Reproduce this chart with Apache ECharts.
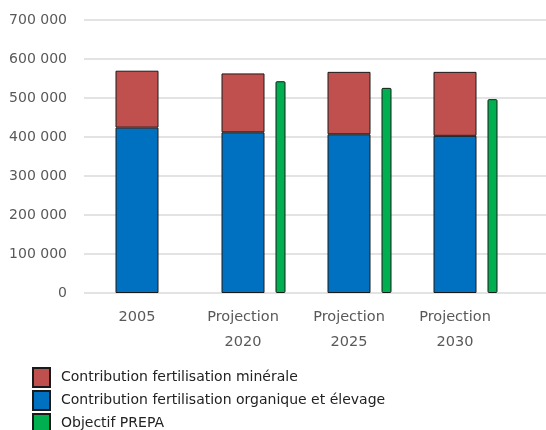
<!DOCTYPE html>
<html>
<head>
<meta charset="utf-8">
<script src="https://cdn.jsdelivr.net/npm/echarts@6/dist/echarts.min.js"></script>
<style>
  html, body { margin: 0; padding: 0; background: #fff; }
  #chart { width: 546px; height: 430px; }
</style>
</head>
<body>
<div id="chart"></div>
<script>
// catégories et valeurs
const categories = ['2005', 'Projection\n2020', 'Projection\n2025', 'Projection\n2030'];
const organique = [424000, 412000, 407000, 403000];
const minerale = [146000, 151000, 160000, 164000];
const objectifPrepa = [null, 543000, 526000, 497000];

const labelNames = {
  minerale: 'Contribution fertilisation minérale',
  organique: 'Contribution fertilisation organique et élevage',
  prepa: 'Objectif PREPA'
};

const font = '"DejaVu Sans", sans-serif';
const fmt = v => String(v).replace(/\B(?=(\d{3})+(?!\d))/g, ' ');

let myChart = echarts.init(document.getElementById('chart'));
let option = {
  animation: false,
  textStyle: { fontFamily: font },
  legend: {
    orient: 'vertical',
    left: 27,
    top: 362,
    height: 80,
    itemWidth: 17,
    itemHeight: 19,
    itemGap: 2,
    icon: 'rect',
    textStyle: { color: '#222', fontSize: 14, lineHeight: 19, padding: [0, 0, 0, 6], fontFamily: font },
    data: [labelNames.minerale, labelNames.organique, labelNames.prepa]
  },
  grid: [
    { left: 84, right: 38, top: 20, bottom: 137 },
    { left: 84, right: 0, top: 20, bottom: 137 }
  ],
  xAxis: [
    {
      type: 'category', gridIndex: 0, data: categories,
      axisLine: { show: false }, axisTick: { show: false },
      axisLabel: { color: '#595959', fontSize: 14.5, lineHeight: 25, margin: 12, interval: 0 }
    },
    {
      type: 'category', gridIndex: 0, data: categories, show: false
    },
    {
      type: 'value', gridIndex: 1, show: false, min: 0, max: 1
    }
  ],
  yAxis: [
    {
      type: 'value', gridIndex: 0, min: 0, max: 700000, interval: 100000,
      axisLine: { show: false }, axisTick: { show: false },
      splitLine: { show: false },
      axisLabel: { color: '#595959', fontSize: 14, margin: 17, formatter: fmt }
    },
    {
      type: 'value', gridIndex: 1, min: 0, max: 700000, interval: 100000,
      axisLine: { show: false }, axisTick: { show: false }, axisLabel: { show: false },
      splitLine: { show: true, lineStyle: { color: '#e3e3e3', width: 2 } }
    }
  ],
  series: [
    {
      name: labelNames.organique, type: 'bar', stack: 'total',
      xAxisIndex: 0, yAxisIndex: 0, barWidth: 43, data: organique,
      itemStyle: { color: '#0070C0', borderColor: '#1a1a1a', borderWidth: 1 }
    },
    {
      name: labelNames.minerale, type: 'bar', stack: 'total',
      xAxisIndex: 0, yAxisIndex: 0, barWidth: 43, data: minerale,
      itemStyle: { color: '#C0504D', borderColor: '#1a1a1a', borderWidth: 1 }
    },
    {
      // emplacement vide pour décaler l'objectif à droite
      name: 'spacer', type: 'bar', xAxisIndex: 1, yAxisIndex: 0,
      barWidth: 75, barGap: 0, data: [null, null, null, null], silent: true
    },
    {
      name: labelNames.prepa, type: 'bar', xAxisIndex: 1, yAxisIndex: 0,
      barWidth: 10, barGap: 0, data: objectifPrepa,
      itemStyle: { color: '#00B050', borderColor: '#1a1a1a', borderWidth: 1, borderRadius: 1 }
    }
  ]
};
myChart.setOption(option);
</script>
</body>
</html>
